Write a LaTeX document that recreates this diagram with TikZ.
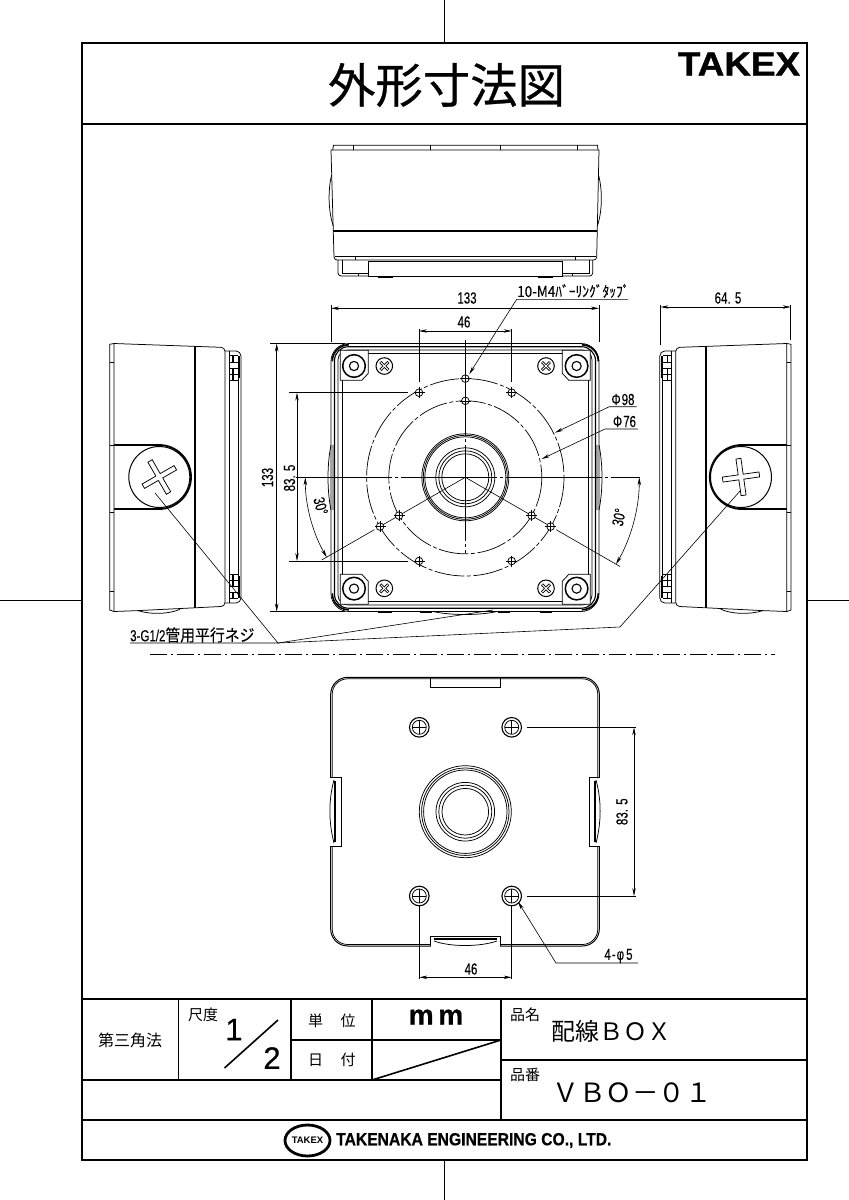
\documentclass[tikz,border=0pt]{standalone}
\usepackage{fontspec}
\usepackage{xcolor}
\usepackage{tikz}
\usetikzlibrary{arrows.meta,shapes.geometric}
\newfontfamily\jpfont{Noto Sans CJK JP}
\newfontfamily\titlefont[FakeBold=0.6]{Noto Sans CJK JP}
\newfontfamily\jpnarrow[FakeStretch=0.9,FakeBold=0.1]{Noto Sans CJK JP}
\newfontfamily\dimfont[FakeStretch=0.72,FakeBold=0.12]{Liberation Sans}
\newfontfamily\plainfont{Liberation Sans}
\newfontfamily\scalefont[FakeBold=0.5]{Liberation Sans}
\newfontfamily\logofont[FakeStretch=1.1,FakeBold=1.2]{Liberation Sans}
\newfontfamily\companyfont[FakeStretch=0.895,FakeBold=0.6]{Liberation Sans}
\definecolor{ink}{HTML}{000000}
\tikzset{
  x=1pt, y=-1pt,
  frameLine/.style={line width=1.8pt, draw=ink},
  cellLine/.style={line width=1.6pt, draw=ink},
  partLine/.style={line width=0.75pt, draw=ink},
  thinLine/.style={line width=0.45pt, draw=ink},
  heavyLine/.style={line width=1.8pt, draw=ink},
  centreLine/.style={line width=0.6pt, draw=ink, dash pattern=on 96pt off 3pt on 3pt off 3pt},
  pitchLine/.style={line width=0.7pt, draw=ink, dash pattern=on 30pt off 2.5pt on 4pt off 2.5pt},
  chainLine/.style={line width=0.7pt, draw=ink, dash pattern=on 17pt off 4pt on 2pt off 4pt},
  dimLine/.style={line width=0.6pt, draw=ink, {Stealth[length=8pt,width=3.4pt]}-{Stealth[length=8pt,width=3.4pt]}},
  leaderLine/.style={line width=0.6pt, draw=ink, -{Stealth[length=8pt,width=3.4pt]}},
  extLine/.style={line width=0.6pt, draw=ink},
  dimText/.style={font=\dimfont\fontsize{16}{17}\selectfont, inner sep=0pt},
  cellText/.style={font=\jpfont\fontsize{15}{16}\selectfont, inner sep=0pt},
  bigText/.style={font=\jpfont\fontsize{24}{26}\selectfont, inner sep=0pt},
  plusCut/.pic={
    \draw[partLine, fill=white] (-18.5,-2.5)--(-2.5,-2.5)--(-2.5,-18.5)--(2.5,-18.5)--(2.5,-2.5)
      --(18.5,-2.5)--(18.5,2.5)--(2.5,2.5)--(2.5,18.5)--(-2.5,18.5)--(-2.5,2.5)--(-18.5,2.5)--cycle;
  },
  smallScrew/.pic={
    \draw[line width=1pt, draw=ink, fill=white] (0,0) circle[radius=8.3];
    \draw[line width=2.8pt, draw=ink] (-4,-4)--(4,4) (-4,4)--(4,-4);
    \draw[line width=1pt, draw=white] (-3.6,-3.6)--(3.6,3.6) (-3.6,3.6)--(3.6,-3.6);
  },
  pitchHole/.pic={
    \draw[partLine, fill=white] (0,0) circle[radius=3.8];
    \draw[thinLine] (-5.5,0)--(5.5,0) (0,-5.5)--(0,5.5);
  },
  mountHole/.pic={
    \draw[line width=1.1pt, draw=ink, fill=white] (0,0) circle[radius=9.8];
    \draw[partLine] (0,0) circle[radius=7];
    \draw[partLine] (-7,0)--(7,0) (0,-7)--(0,7);
  },
  cornerPocket/.pic={
    \draw[partLine, fill=white] (-125,-127)--(-97,-127)--(-97,-104)--(-103.5,-97)--(-125,-97)--cycle;
    \draw[line width=1.5pt, draw=ink, fill=white] (-111.3,-111.3) circle[radius=11.3];
    \draw[line width=1.1pt, draw=ink] (-111.3,-111.3) circle[radius=4.6];
    \draw[line width=1.6pt, draw=ink] (-133,-116) arc[start angle=180,end angle=270,radius=16.5];
  },
  sideBody/.pic={
    % rear cap and body
    \draw[partLine] (114,343.5)--(109.7,344.3)--(109.7,610)--(114,611.5);
    \draw[partLine] (109.7,362)--(114,362) (109.7,445)--(114,445) (109.7,512)--(114,512) (109.7,591)--(114,591);
    \draw[partLine] (114,343.5)--(221,347.3) arc[start angle=-90,end angle=0,radius=4]--(225,602.5)
      arc[start angle=0,end angle=90,radius=4]--(138,610.6)--(114,611.5)--cycle;
    \draw[partLine] (138,610.6) .. controls (150,614.5) and (168,614.5) .. (180,609.3);
    \draw[heavyLine] (195,346)--(195,608);
    % gasket side
    \draw[partLine] (225,351)--(236,351) arc[start angle=-90,end angle=0,radius=5]--(241,598)
      arc[start angle=0,end angle=90,radius=5]--(225,603);
    \draw[partLine] (229,351)--(229,603) (238,356)--(238,598);
    \draw[partLine] (229,355)--(238,355) (229,362)--(238,362) (229,368)--(238,368) (229,374)--(238,374) (229,380)--(238,380);
    \draw[partLine] (229,574)--(238,574) (229,580)--(238,580) (229,586)--(238,586) (229,592)--(238,592) (229,598)--(238,598);
    \draw[heavyLine, line width=1.2pt] (233,355)--(233,362) (233,368)--(233,380) (233,574)--(233,586) (233,592)--(233,598);
    \draw[heavyLine, line width=1.2pt] (239.5,356)--(239.5,378) (239.5,576)--(239.5,598);
    % port pocket
    \draw[heavyLine] (114,445)--(159,445) arc[start angle=-90,end angle=90,radius=32]--(114,509);
  }
}

\begin{document}
\begin{tikzpicture}
\useasboundingbox (0,0) rectangle (849,1200);
\fill[white] (0,0) rectangle (849,1200);

% sheet frame and marks
\draw[thinLine, line width=1pt] (444.5,0)--(444.5,43) (444.5,1160)--(444.5,1200) (0,600)--(82,600) (807,600)--(849,600);
\draw[frameLine] (82,43) rectangle (807,1160);
\draw[cellLine] (82,124)--(807,124);
\node[font=\titlefont\fontsize{47.4}{50}\selectfont, inner sep=0pt] (titleText) at (446.5,85) {外形寸法図};
\node[font=\logofont\bfseries\fontsize{33.5}{35}\selectfont, inner sep=0pt] (logoText) at (739,64) {TAKEX};

% top view
\draw[partLine] (332.7,150)--(333.5,145.3)--(597.5,145.3)--(598,150);
\draw[partLine] (353,145.3)--(353,150) (430,145.3)--(430,150) (500.7,145.3)--(500.7,150) (577,145.3)--(577,150);
\draw[partLine] (331,150)--(599,150)--(596.7,257) arc[start angle=0,end angle=90,radius=3]--(337,260) arc[start angle=90,end angle=180,radius=3]--cycle;
\draw[partLine] (331.6,175) .. controls (328,190) and (328,210) .. (333.3,226);
\draw[partLine] (598.5,175) .. controls (602.5,190) and (602.5,210) .. (597.4,226);
\draw[heavyLine] (333.3,230.7)--(597,230.7);
\draw[partLine] (334.5,256.7)--(596,256.7) (355.7,256.7)--(355.7,260) (575,256.7)--(575,260);
\draw[partLine] (338,260)--(338,273) arc[start angle=180,end angle=90,radius=3]--(589.7,276) arc[start angle=90,end angle=0,radius=3]--(592.7,260);
\draw[partLine] (342,260)--(342,273)--(589,273)--(589,260) (358,273)--(358,276) (572,273)--(572,276);
\draw[partLine, fill=white] (368,261.5) rectangle (562,276);
\draw[heavyLine, line width=1.2pt] (368,261.5)--(562,261.5) (378,277)--(393,277) (538,277)--(553,277);

% front view outline
\draw[partLine, rounded corners=18pt] (331,343.5) rectangle (599,611.5);
\draw[line width=1.1pt, draw=ink, rounded corners=14pt] (334.5,346.7) rectangle (595.5,608.2);
\draw[partLine, rounded corners=10pt] (338,350) rectangle (592,605);
\draw[partLine] (342,353) rectangle (588,601.5);
\draw[partLine] (331,445) .. controls (327,465) and (327,490) .. (331,510) (333,445)--(333,510);
\draw[partLine] (599,445) .. controls (603,465) and (603,490) .. (599,510) (597,445)--(597,510);
\draw[heavyLine] (378,612.5)--(392,612.5) (420,612.5)--(432,612.5) (498,612.5)--(510,612.5) (540,612.5)--(552,612.5);
\draw[partLine] (433,611.5) .. controls (450,615.5) and (480,615.5) .. (497,611.5);
\foreach \sx/\sy in {1/1,-1/1,1/-1,-1/-1}{
  \begin{scope}[shift={(465.3,477.3)},xscale=\sx,yscale=\sy]
  \pic[transform shape] {cornerPocket};
  \end{scope}
}
\pic at (384.3,366) {smallScrew};
\pic at (546,366) {smallScrew};
\pic at (384.3,588.3) {smallScrew};
\pic at (546,588.3) {smallScrew};

% front view pitch circles
\draw[pitchLine] (465.3,477.3) circle[radius=98.7];
\draw[pitchLine] (465.3,477.3) circle[radius=76.5];
\draw[centreLine] (296,477.3)--(640,477.3);
\draw[centreLine] (465.3,340)--(465.3,553);
\draw[centreLine] (465.3,477.3)--(321.7,560);
\draw[centreLine] (465.3,477.3)--(620,566.5);
\foreach \r in {43.5,42,40.5,29.5,26.5,23.5}{
  \draw[partLine] (465.3,477.3) circle[radius=\r];
}
\foreach \px/\py in {465.3/378.6,419/392.7,511.7/392.7,419/561,511.7/561,380/526.6,550.6/526.6,465.3/400.8,399/515.6,531.6/515.6}{
  \pic at (\px,\py) {pitchHole};
}

% front view dimensions
\coordinate (boxLeft) at (331,308.3);
\coordinate (boxRight) at (599,308.3);
\draw[extLine] (331,305)--(331,342) (599,305)--(599,342);
\draw[dimLine] (boxLeft)--(boxRight);
\node[dimText] (widthText) at (467,298) {133};
\draw[extLine] (419,329)--(419,382) (511.7,329)--(511.7,382);
\coordinate (pitchLeft) at (419,331);
\coordinate (pitchRight) at (511.7,331);
\draw[dimLine] (pitchLeft)--(pitchRight);
\node[dimText] (pitchText) at (464,322) {46};
\draw[extLine] (270,343.5)--(345,343.5) (270,611.5)--(345,611.5);
\coordinate (boxUp) at (276.7,343.5);
\coordinate (boxDown) at (276.7,611.5);
\draw[dimLine] (boxUp)--(boxDown);
\node[dimText, rotate=90] (heightText) at (267.5,477.5) {133};
\draw[extLine] (289,392.7)--(408,392.7) (289,561)--(408,561);
\coordinate (rowUp) at (297,392.7);
\coordinate (rowDown) at (297,561);
\draw[dimLine] (rowUp)--(rowDown);
\node[dimText, rotate=90] (rowText) at (289.5,478) {83. 5};
\draw[dimLine] (305.3,477.3) arc[start angle=180,end angle=150,radius=160];
\node[dimText, rotate=-75] (angleLeft) at (320.7,506) {30°};
\draw[dimLine] (639.3,477.3) arc[start angle=0,end angle=30,radius=174];
\node[dimText, rotate=78] (angleRight) at (619,517.3) {30°};

% front view leaders
\coordinate (tapEnd) at (628,299.3);
\coordinate (tapKnee) at (516.7,299.3);
\coordinate (tapHole) at (469.3,374);
\draw[leaderLine] (tapEnd)--(tapKnee)--(tapHole);
\node[font=\jpnarrow\fontsize{15}{16}\selectfont, inner sep=0pt, anchor=west] (tapText) at (517,291) {10-M4ﾊﾞｰﾘﾝｸﾞﾀｯﾌﾟ};
\coordinate (outerEnd) at (636.7,406.7);
\coordinate (outerKnee) at (609.3,406.7);
\coordinate (outerHit) at (555,432.7);
\draw[leaderLine] (outerEnd)--(outerKnee)--(outerHit);
\node[dimText] (outerText) at (623,399.5) {Φ\kern1pt98};
\coordinate (innerEnd) at (638,429);
\coordinate (innerKnee) at (605,429);
\coordinate (innerHit) at (541.7,459);
\draw[leaderLine] (innerEnd)--(innerKnee)--(innerHit);
\node[dimText] (innerText) at (624.5,421.5) {Φ\kern1pt76};

% left and right views
\pic at (0,0) {sideBody};
\begin{scope}[xshift=900.8pt,xscale=-1]
\pic[transform shape] at (0,0) {sideBody};
\end{scope}
\draw[line width=1pt, draw=ink, fill=white] (159.3,477) circle[radius=30.5];
\pic[rotate=30] at (159.3,477) {plusCut};
\draw[line width=1pt, draw=ink, fill=white] (741,477) circle[radius=30.5];
\pic[rotate=8] at (741,477) {plusCut};
\draw[extLine] (660.5,305)--(660.5,345) (790.7,305)--(790.7,340);
\coordinate (depthLeft) at (660.5,307);
\coordinate (depthRight) at (790.7,307);
\draw[dimLine] (depthLeft)--(depthRight);
\node[dimText] (depthText) at (728,298) {64. 5};

% thread leaders
\coordinate (noteEnd) at (130,643);
\coordinate (noteKnee) at (278,643);
\coordinate (portLeft) at (155,493);
\coordinate (portFront) at (493,610);
\coordinate (portBend) at (620,627);
\coordinate (portRight) at (740,491);
\draw[extLine] (noteEnd)--(noteKnee)--(portLeft);
\draw[extLine] (noteKnee)--(portFront);
\draw[extLine] (noteKnee)--(portBend)--(portRight);
\node[inner sep=0pt, anchor=west] (noteText) at (130,635) {\dimfont\fontsize{16}{17}\selectfont 3-G1/2\jpnarrow\fontsize{16.5}{17}\selectfont 管用平行ネジ};
\draw[chainLine] (150,654)--(775,654);

% bottom view
\draw[line width=1pt, draw=ink, rounded corners=17pt] (330.7,677.3) rectangle (599.3,946);
\draw[partLine, rounded corners=15.5pt] (332.2,678.8) rectangle (597.8,944.5);
\draw[partLine] (430,677.3)--(430,687.3)--(500.7,687.3)--(500.7,677.3);
\fill[white] (329.5,777.5) rectangle (341,846);
\fill[white] (589.5,777.5) rectangle (600.5,846);
\fill[white] (430.5,936.5) rectangle (500.2,947);
\draw[partLine] (330.7,777)--(341.7,777)--(341.7,846.7)--(330.7,846.7);
\draw[partLine] (599.3,777)--(589.3,777)--(589.3,846.7)--(599.3,846.7);
\draw[partLine] (430,946)--(430,936)--(500.7,936)--(500.7,946);
\draw[partLine] (334,780) .. controls (328.5,800) and (328.5,822) .. (334,843);
\draw[partLine] (596,780) .. controls (601.5,800) and (601.5,822) .. (596,843);
\draw[heavyLine] (335,781)--(335,842) (595,781)--(595,842);
\draw[partLine] (434,941) .. controls (450,947) and (480,947) .. (497,941);
\draw[heavyLine] (434,939)--(497,939);
\foreach \r in {46,43.7,41.7,29.3,26.5,23.3}{
  \draw[partLine] (465.3,811.7) circle[radius=\r];
}
\pic at (419.3,727.3) {mountHole};
\pic at (511.7,727.3) {mountHole};
\pic at (419.3,896) {mountHole};
\pic at (511.7,896) {mountHole};

% bottom view dimensions
\draw[extLine] (526.7,727.3)--(636,727.3) (526.7,896)--(636,896);
\coordinate (holeUp) at (634,727.3);
\coordinate (holeDown) at (634,896);
\draw[dimLine] (holeUp)--(holeDown);
\node[dimText, rotate=90] (holeText) at (622,811.7) {83. 5};
\draw[extLine] (419.3,905)--(419.3,979) (511.7,905)--(511.7,979);
\coordinate (holeLeft) at (419.3,977.3);
\coordinate (holeRight) at (511.7,977.3);
\draw[dimLine] (holeLeft)--(holeRight);
\node[dimText] (spanText) at (471,969) {46};
\coordinate (holeEnd) at (638,963);
\coordinate (holeKnee) at (556,963);
\coordinate (holeHit) at (518,901.7);
\draw[leaderLine] (holeEnd)--(holeKnee)--(holeHit);
\node[dimText] (holeNote) at (618.5,956) {4\kern1pt-\kern1ptφ\kern2pt5};

% title block
\draw[frameLine] (82,999)--(807,999);
\draw[cellLine] (178.5,999)--(178.5,1080) (291,999)--(291,1080) (372,999)--(372,1080) (501,999)--(501,1120);
\draw[cellLine] (291,1040)--(501,1040) (82,1080)--(501,1080) (501,1060)--(807,1060) (82,1120)--(807,1120);
\draw[cellLine] (372,1080)--(501,1040);
\node[cellText, font=\jpfont\fontsize{16}{17}\selectfont] (methodText) at (130,1040) {第三角法};
\node[cellText] (scaleLabel) at (203,1014.5) {尺度};
\node[font=\scalefont\fontsize{31}{32}\selectfont, inner sep=0pt] (scaleOne) at (234,1029.5) {1};
\draw[cellLine] (278,1020)--(224.5,1068);
\node[font=\scalefont\fontsize{31}{32}\selectfont, inner sep=0pt] (scaleTwo) at (272,1058) {2};
\node[cellText] (unitA) at (315.5,1020.5) {単};
\node[cellText] (unitB) at (348,1020.5) {位};
\node[cellText] (dateA) at (315.5,1060) {日};
\node[cellText] (dateB) at (348,1060) {付};
\node[font=\scalefont\bfseries\fontsize{28}{30}\selectfont, inner sep=0pt] (unitText) at (436,1017) {m\,m};
\node[cellText] (nameLabel) at (525,1014.5) {品名};
\node[bigText, anchor=west] (nameText) at (551,1031) {配線ＢＯＸ};
\node[cellText] (codeLabel) at (525,1075) {品番};
\node[bigText, font=\jpfont\fontsize{26.5}{28}\selectfont, anchor=west] (codeText) at (552.5,1093) {ＶＢＯ－０１};
\node[draw=ink, line width=2.8pt, ellipse, minimum width=45pt, minimum height=31pt, inner sep=0pt, font=\plainfont\bfseries\fontsize{9.5}{10}\selectfont] (makerMark) at (307.5,1140.5) {TAKEX};
\node[font=\companyfont\bfseries\fontsize{17.5}{18}\selectfont, inner sep=0pt, anchor=west] (makerName) at (336,1140.5) {TAKENAKA ENGINEERING CO., LTD.};
\end{tikzpicture}
\end{document}
